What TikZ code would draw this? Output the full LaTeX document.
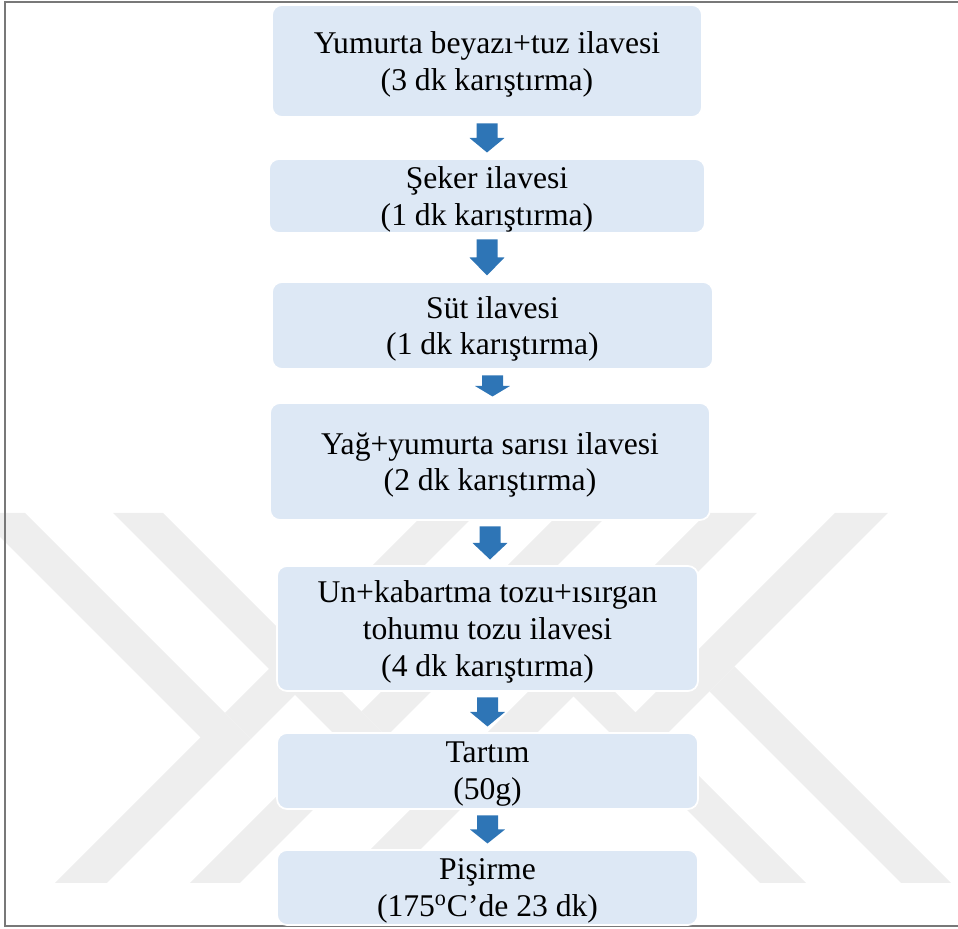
\documentclass[tikz,border=0pt]{standalone}
\usepackage{fontspec}
\setmainfont{Liberation Serif}
\usetikzlibrary{calc}
\definecolor{boxfill}{RGB}{221,232,245}
\definecolor{arrowblue}{RGB}{46,117,182}
\definecolor{markgray}{RGB}{238,238,238}
\definecolor{framegray}{RGB}{120,120,120}
\tikzset{
  stepbox/.style={rectangle, rounded corners=0.2cm, fill=boxfill, draw=white,
    line width=1pt, align=center, inner sep=0pt, outer sep=0pt,
    text depth=-0.22cm, font=\fontsize{18}{21}\selectfont},
  flowfill/.style={fill=arrowblue},
  markband/.style={fill=markgray},
}
\newcommand{\flowarrow}[2]{%
  \fill[flowfill] let \p1=($(#1.south)+(0,-6.5)$), \p2=($(#2.north)+(0,6.5)$) in
    (\x1-0.21cm,\y1) -- (\x1+0.21cm,\y1) -- (\x1+0.21cm,{(\y1+\y2)/2})
    -- (\x1+0.35cm,{(\y1+\y2)/2}) -- (\x1,\y2) -- (\x1-0.35cm,{(\y1+\y2)/2})
    -- (\x1-0.21cm,{(\y1+\y2)/2}) -- cycle;
}

\begin{document}
\begin{tikzpicture}[x=0.02cm, y=0.02cm]
    \useasboundingbox (0,0) rectangle (958,929);
    % --- faint watermark behind the chart ---
    \begin{scope}[shift={(0,929)}, yscale=-1]
      \fill[markband] (-24,513) -- (25,513) -- (251,739) -- (107,883) -- (55,883) -- (200.5,737.5) -- cycle;
      \fill[markband] (225,713) -- (425,513) -- (477,513) -- (251,739) -- cycle;
      \fill[markband] (113,513) -- (163,513) -- (386.5,736.5) -- (240,883) -- (190,883) -- (336.5,736.5) -- cycle;
      \fill[markband] (361.5,711.5) -- (560,513) -- (610,513) -- (386.5,736.5) -- cycle;
      \fill[markband] (707,513) -- (757,513) -- (387,883) -- (337,883) -- cycle;
      \fill[markband] (548.5,671.5) -- (596.5,673.5) -- (806,883) -- (760,883) -- cycle;
      \fill[markband] (835,513) -- (888,513) -- (662,739) -- (612.5,735.5) -- cycle;
      \fill[markband] (709.5,691.5) -- (734.5,666.5) -- (951,883) -- (901,883) -- cycle;
    \end{scope}
    % --- frame ---
    \draw[framegray, line width=0.04cm] (5,2.5) rectangle (975,926.5);
    % --- steps ---
    \node[stepbox, minimum width=8.6cm, minimum height=2.24cm] (b1) at (487,868)
      {Yumurta beyazı+tuz ilavesi\\(3 dk karıştırma)};
    \node[stepbox, minimum width=8.72cm, minimum height=1.48cm] (b2) at (487,733)
      {Şeker ilavesi\\(1 dk karıştırma)};
    \node[stepbox, minimum width=8.82cm, minimum height=1.74cm] (b3) at (492.5,603.5)
      {Süt ilavesi\\(1 dk karıştırma)};
    \node[stepbox, minimum width=8.8cm, minimum height=2.34cm] (b4) at (490,467.5)
      {Yağ+yumurta sarısı ilavesi\\(2 dk karıştırma)};
    \node[stepbox, minimum width=8.42cm, minimum height=2.5cm] (b5) at (487.5,300.5)
      {Un+kabartma tozu+ısırgan\\tohumu tozu ilavesi\\(4 dk karıştırma)};
    \node[stepbox, minimum width=8.42cm, minimum height=1.52cm] (b6) at (487.5,158)
      {Tartım\\(50g)};
    \node[stepbox, minimum width=8.42cm, minimum height=1.5cm] (b7) at (487.5,41.5)
      {Pişirme\\(175\textsuperscript{o}C’de 23 dk)};
    % --- block arrows between steps ---
    \foreach \a/\b in {b1/b2, b2/b3, b3/b4, b4/b5, b5/b6, b6/b7}
      {\flowarrow{\a}{\b}}
\end{tikzpicture}
\end{document}
